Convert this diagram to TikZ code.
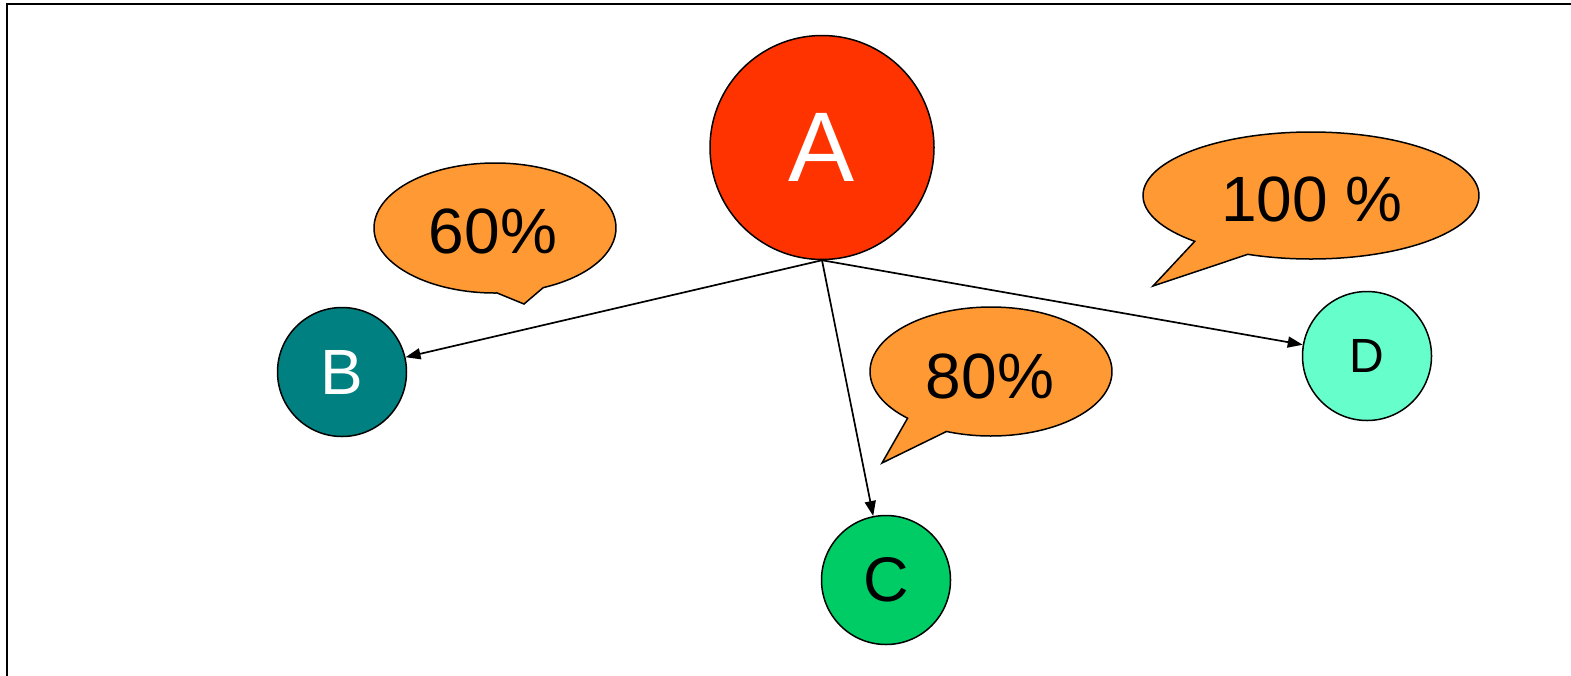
\documentclass[tikz,border=0pt]{standalone}
\usepackage{fontspec}
\setmainfont{Liberation Sans}
\usetikzlibrary{arrows.meta,calc}
\definecolor{colA}{HTML}{FF3300}
\definecolor{colB}{HTML}{008080}
\definecolor{colC}{HTML}{00CC66}
\definecolor{colD}{HTML}{66FFCC}
\definecolor{callorange}{HTML}{FF9933}
\tikzset{
  bignode/.style={circle, draw=black, line width=1.5pt, inner sep=0pt, minimum size=224pt},
  smallnode/.style={circle, draw=black, line width=1.5pt, inner sep=0pt, minimum size=129pt},
  callshape/.style={draw=black, fill=callorange, line width=1.5pt, line join=miter},
  calltext/.style={inner sep=0pt, font=\fontsize{64}{64}\selectfont},
  conn/.style={draw=black, line width=1.7pt, -{Triangle[length=15pt,width=11pt]}},
  frameline/.style={draw=black, line width=1.6pt}
}
\begin{document}
\begin{tikzpicture}[x=1pt,y=1pt,yscale=-1]
\useasboundingbox (0,0) rectangle (1571,675);
% frame
\coordinate (fbl) at (7,676);
\coordinate (ftl) at (7,4);
\coordinate (ftr) at (1572,4);
\draw[frameline] (fbl) -- (ftl) -- (ftr);

% callouts
\coordinate (c60) at (495,228);
\coordinate (t60) at (524,304);
\draw[callshape] ($(c60)+(89:121pt and 65pt)$) arc[start angle=89, end angle=426.5, x radius=121pt, y radius=65pt] -- (t60) -- cycle;

\coordinate (c80) at (991,371.5);
\coordinate (t80) at (882,463);
\draw[callshape] ($(c80)+(133.6:121pt and 64.5pt)$) arc[start angle=133.6, end angle=471.6, x radius=121pt, y radius=64.5pt] -- (t80) -- cycle;

\coordinate (c100) at (1311,195.5);
\coordinate (t100) at (1153,286);
\draw[callshape] ($(c100)+(133.8:168pt and 63.5pt)$) arc[start angle=133.8, end angle=472.1, x radius=168pt, y radius=63.5pt] -- (t100) -- cycle;

\node[calltext] (p60) at (493,231.5) {60\%};
\node[calltext] (p80) at (990,376) {80\%};
\node[calltext] (p100) at (1312,199.5) {100 \%};

% nodes
\node[bignode, fill=colA, text=white, font=\fontsize{99}{99}\selectfont] (A) at (822,147.5) {A};
\node[smallnode, fill=colB, text=white, font=\fontsize{64}{64}\selectfont] (B) at (342,372) {B};
\node[smallnode, fill=colC, text=black, font=\fontsize{63}{63}\selectfont] (C) at (886,580) {C};
\node[smallnode, fill=colD, text=black, font=\fontsize{48}{48}\selectfont] (D) at (1367,356) {D};

% connectors
\draw[conn] (A.south) -- (B);
\draw[conn] (A.south) -- (C);
\draw[conn] (A.south) -- (D);
\end{tikzpicture}
\end{document}
